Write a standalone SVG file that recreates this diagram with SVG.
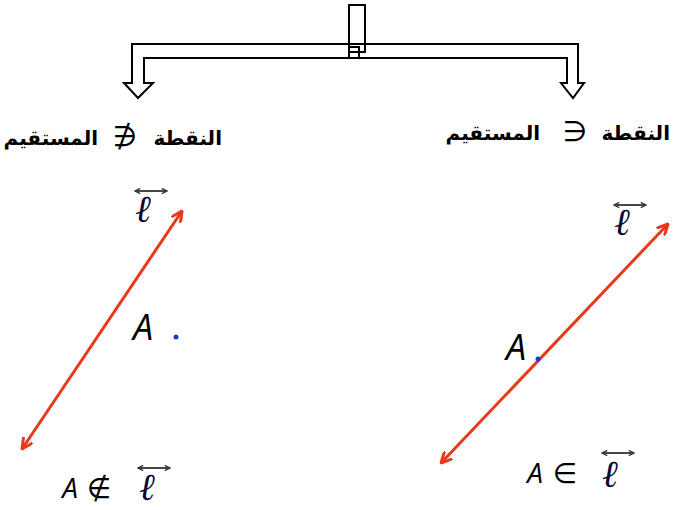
<svg xmlns="http://www.w3.org/2000/svg" width="675" height="510" viewBox="0 0 675 510">
<defs>
<style>
.ar{font-family:"DejaVu Sans",sans-serif;font-weight:bold;font-size:20px;fill:#000}
.sym{font-family:"DejaVu Sans",sans-serif;font-size:28px;fill:#000}
.it{font-family:"Open Sans","Liberation Sans",sans-serif;font-style:italic;fill:#000}
.ell{font-family:"DejaVu Serif",serif;font-style:italic;font-size:38px;fill:#0a0a30}
.red{stroke:#E8391C;stroke-width:3;fill:none;marker-start:url(#rh);marker-end:url(#rh)}
.vec{stroke:#333;stroke-width:1.8;fill:none;marker-start:url(#gh);marker-end:url(#gh)}
.br{fill:#fff;stroke:#000;stroke-width:2}
</style>
<marker id="rh" viewBox="0 0 12 12" refX="11" refY="6" markerWidth="12" markerHeight="12" markerUnits="userSpaceOnUse" orient="auto-start-reverse">
<polyline points="1,1 11,6 1,11" fill="none" stroke="#E8391C" stroke-width="3" stroke-linecap="round" stroke-linejoin="round"/>
</marker>
<marker id="gh" viewBox="0 0 8 8" refX="7" refY="4" markerWidth="7" markerHeight="7" markerUnits="userSpaceOnUse" orient="auto-start-reverse">
<polyline points="1,1 7,4 1,7" fill="none" stroke="#333" stroke-width="1.5"/>
</marker>
</defs>
<rect width="675" height="510" fill="#fff"/>
<g id="bracket">
<path class="br" d="M132,44 L578,44 L578,83 L584,83 L573,98 L561,83 L567,83 L567,58 L144,58 L144,83 L153,83 L138,98 L124,83 L132,83 Z"/>
<rect x="349" y="5" width="16" height="47" fill="none" stroke="#000" stroke-width="2"/>
<rect x="349" y="47" width="10" height="11" fill="none" stroke="#000" stroke-width="2"/>
</g>
<g id="label-left">
<text class="ar" x="222" y="145" text-anchor="end">النقطة</text>
<text class="sym" x="125" y="146" text-anchor="middle">∌</text>
<text class="ar" x="98" y="145" text-anchor="end">المستقيم</text>
</g>
<g id="label-right">
<text class="ar" x="670" y="140" text-anchor="end">النقطة</text>
<text class="sym" x="575" y="141" text-anchor="middle">∋</text>
<text class="ar" x="540" y="140" text-anchor="end" font-size="18">المستقيم</text>
</g>
<g id="connectors">
<line class="red" x1="22" y1="449" x2="182" y2="211"/>
<line class="red" x1="441" y1="463" x2="668" y2="224"/>
</g>
<g id="line-left">
<line class="vec" x1="135" y1="191" x2="167" y2="191"/>
<text class="ell" x="143" y="222" text-anchor="middle">ℓ</text>
</g>
<g id="point-left">
<text class="it" x="143" y="340" font-size="36" text-anchor="middle">A</text>
<circle cx="176" cy="337" r="2.5" fill="#1a3ccc"/>
</g>
<g id="line-right">
<line class="vec" x1="614" y1="205" x2="646" y2="205"/>
<text class="ell" x="622" y="235" text-anchor="middle">ℓ</text>
</g>
<g id="point-right">
<text class="it" x="516" y="360" font-size="36" text-anchor="middle">A</text>
<circle cx="538" cy="359" r="2.5" fill="#1a3ccc"/>
</g>
<g id="notation-left">
<text class="it" x="70" y="498" font-size="28" text-anchor="middle">A</text>
<text class="sym" x="99" y="498" text-anchor="middle">∉</text>
<line class="vec" x1="138" y1="468" x2="170" y2="468"/>
<text class="ell" x="147" y="500" text-anchor="middle">ℓ</text>
</g>
<g id="notation-right">
<text class="it" x="535" y="483" font-size="28" text-anchor="middle">A</text>
<text class="sym" x="565" y="483" text-anchor="middle">∈</text>
<line class="vec" x1="602" y1="453" x2="634" y2="453"/>
<text class="ell" x="610" y="487" text-anchor="middle">ℓ</text>
</g>
</svg>
